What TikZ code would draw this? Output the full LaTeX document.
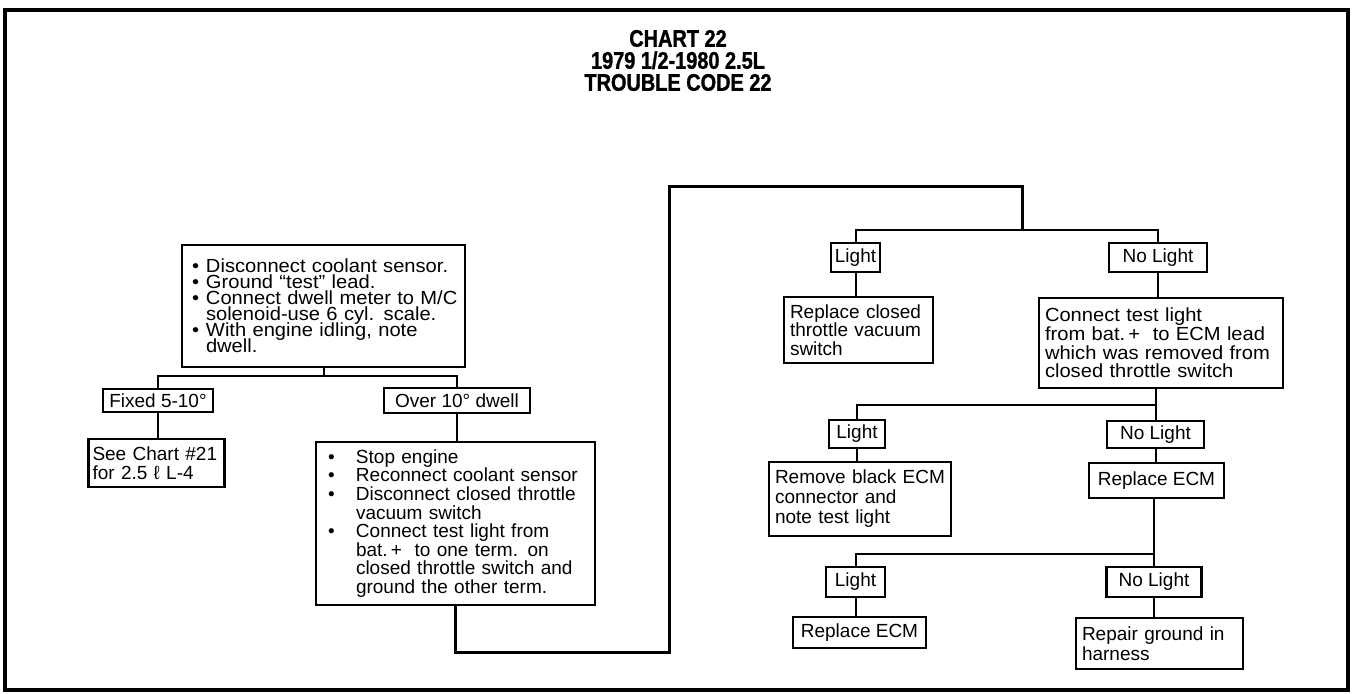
\documentclass[tikz,border=0pt]{standalone}
\usepackage{fontspec}
\setmainfont{Liberation Sans}
\newfontfamily\titlefont{Liberation Sans}[FakeStretch=0.83, BoldFeatures={FakeBold=1.2}]
\newfontfamily\widefont{Liberation Sans}[FakeStretch=1.06, Ligatures=TeX]
\usetikzlibrary{positioning}
\newcommand{\bul}{\hspace*{2pt}\makebox[7pt][l]{\textbullet}}
\newcommand{\bulgap}{\hspace*{9pt}}
\newcommand{\wbul}{\hspace*{3pt}\makebox[14pt][l]{\textbullet}}
\newcommand{\wgap}{\hspace*{17pt}}
\newcommand{\tightlines}{\lineskiplimit=-20pt\relax}

\begin{document}
\begin{tikzpicture}[x=0.5pt,y=-0.5pt,
  font=\fontsize{9.5}{9.3}\selectfont,
  box/.style={draw, line width=1.2pt, align=left, inner xsep=3pt, inner ysep=1pt},
  tag/.style={draw, line width=1.2pt, align=center, inner sep=1pt},
  wire/.style={line width=1pt},
  loopwire/.style={line width=1.5pt},
  frame/.style={line width=2.2pt}]

\useasboundingbox (0,0) rectangle (1357,694);
\draw[frame] (5,10) rectangle (1348,690);

\node[font=\titlefont\bfseries\fontsize{12}{11}\selectfont, align=center] (title) at (678,60.5) {CHART 22\\1979 1/2-1980 2.5L\\TROUBLE CODE 22};

\node[box, text width=135.5pt, minimum height=61pt, font={\widefont\fontsize{9.5}{8}\selectfont\tightlines}] (check) at (323.5,306) {\bul Disconnect coolant sensor.\\ \bul Ground ``test'' lead.\\ \bul Connect dwell meter to M/C\\ \bulgap solenoid-use 6 cyl. scale.\\ \bul With engine idling, note\\ \bulgap dwell.\par\vspace*{4pt}};
\node[tag, minimum width=55pt, minimum height=11.5pt] (fixed) at (158,400.5) {Fixed 5-10°};
\node[tag, minimum width=73pt, minimum height=12.5pt] (over) at (457,400.5) {Over 10° dwell};
\node[box, inner xsep=2pt, text width=64pt, minimum height=24pt] (chart21) at (156.5,463) {See Chart \#21\\for 2.5 ℓ L-4};
\node[box, text width=133.5pt, minimum height=81.5pt] (stop) at (455.5,523.5) {\wbul Stop engine\\ \wbul Reconnect coolant sensor\\ \wbul Disconnect closed throttle\\ \wgap vacuum switch\\ \wbul Connect test light from\\ \wgap bat.\,+\ \ to one term. on\\ \wgap closed throttle switch and\\ \wgap ground the other term.};

\node[tag, minimum width=24.5pt, minimum height=14.5pt] (light1) at (855.5,257.5) {Light};
\node[tag, minimum width=49pt, minimum height=14.5pt] (nolight1) at (1158,257.5) {No Light};
\node[box, text width=68.5pt, minimum height=33pt] (replthr) at (858.5,330) {Replace closed\\throttle vacuum\\switch};
\node[box, text width=116pt, minimum height=45pt, font={\widefont\fontsize{9.5}{9.3}\selectfont}] (conntest) at (1161,343) {Connect test light\\from bat.\,+\ \ to ECM lead\\which was removed from\\closed throttle switch};
\node[tag, minimum width=28pt, minimum height=14pt] (light2) at (857,434) {Light};
\node[tag, minimum width=48.5pt, minimum height=13.5pt] (nolight2) at (1155.5,434.5) {No Light};
\node[box, text width=85pt, minimum height=37pt, font=\fontsize{9.5}{10}\selectfont] (remove) at (860,499) {Remove black ECM\\connector and\\note test light};
\node[tag, minimum width=67.5pt, minimum height=17.5pt] (replecm1) at (1156.5,480.5) {Replace ECM};
\node[tag, minimum width=29.5pt, minimum height=15pt] (light3) at (855.5,582) {Light};
\node[tag, minimum width=47.5pt, minimum height=15pt] (nolight3) at (1154,582) {No Light};
\node[tag, minimum width=66.5pt, minimum height=15.5pt] (replecm2) at (859.5,632.5) {Replace ECM};
\node[box, text width=77.5pt, minimum height=25.5pt, font=\fontsize{9.5}{10}\selectfont] (repair) at (1159.5,643.5) {Repair ground in\\harness};

\coordinate (br1) at (325,376);
\draw[wire] (check.south) -- (check.south |- br1);
\draw[wire] (fixed.north) |- (br1) -| (over.north);
\draw[wire] (fixed.south) -- (fixed.south |- chart21.north);
\draw[wire] (over.south) -- (over.south |- stop.north);

\coordinate (lpA) at (669,653);
\coordinate (lpB) at (669,187);
\coordinate (lpC) at (1022,187);
\coordinate (br0) at (1022,230);
\draw[loopwire] (stop.south) |- (lpA) -- (lpB) -- (lpC) -- (br0);

\draw[wire] (light1.north) |- (br0) -| (nolight1.north);
\draw[wire] (light1.south) -- (light1.south |- replthr.north);
\draw[wire] (nolight1.south) -- (nolight1.south |- conntest.north);

\coordinate (br2) at (1155.5,405);
\draw[wire] (conntest.south -| br2) -- (nolight2.north);
\draw[wire] (light2.north) |- (br2);
\draw[wire] (light2.south) -- (light2.south |- remove.north);
\draw[wire] (nolight2.south) -- (nolight2.south |- replecm1.north);

\coordinate (br3) at (1154,554);
\draw[wire] (replecm1.south -| br3) -- (nolight3.north);
\draw[wire] (light3.north) |- (br3);
\draw[wire] (light3.south) -- (light3.south |- replecm2.north);
\draw[wire] (nolight3.south) -- (nolight3.south |- repair.north);

\end{tikzpicture}
\end{document}
